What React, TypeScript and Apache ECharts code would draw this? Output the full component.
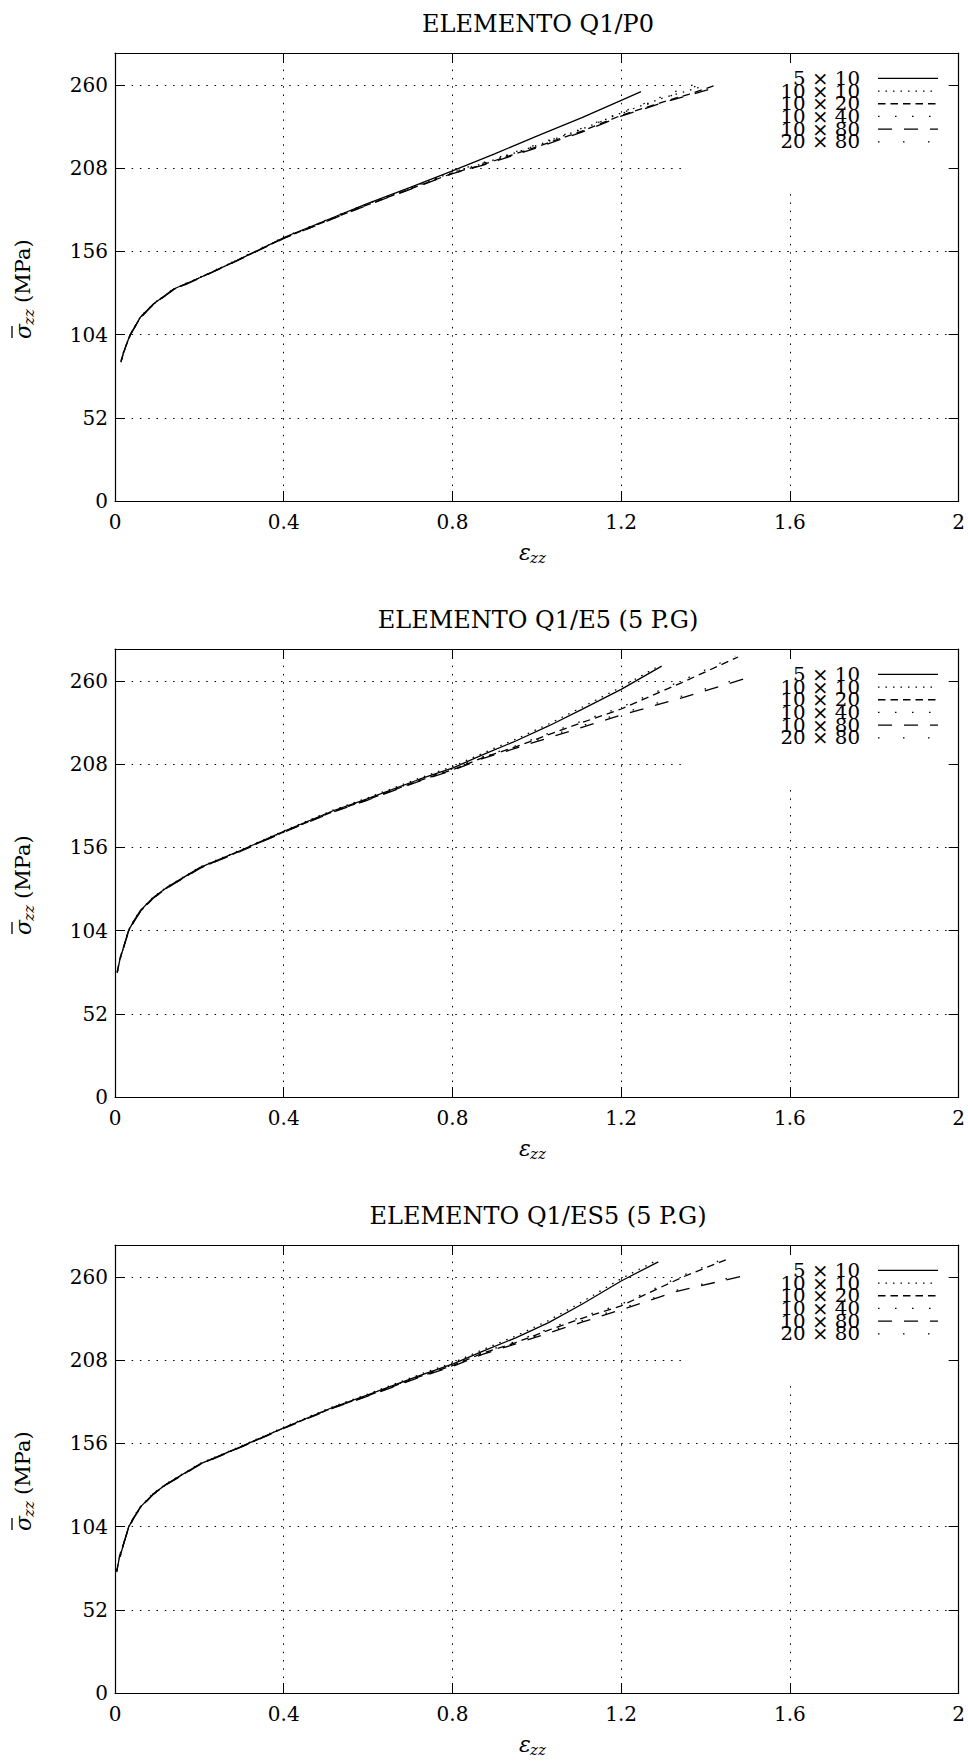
import React, { useEffect, useRef } from "react";
import * as echarts from "echarts";

// ---- text -------------------------------------------------------------
const panelTitles = ["ELEMENTO Q1/P0", "ELEMENTO Q1/E5 (5 P.G)", "ELEMENTO Q1/ES5 (5 P.G)"];
const meshLabels = ["5 × 10", "10 × 10", "10 × 20", "10 × 40", "10 × 80", "20 × 80"];

// ---- axes ---------------------------------------------------------------
const strainMin = 0;
const strainMax = 2;
const strainStep = 0.4;
const stressMin = 0;
const stressMax = 280;
const stressStep = 52;
const stressLabelTop = 260;

// ---- data: [strain ε_zz, stress σ_zz (MPa)] ------------------------------
// Element Q1/P0
const p0Mesh5x10 = [[0.019, 92], [0.036, 104], [0.06, 114.8], [0.091, 123.1], [0.139, 132.5], [0.202, 139.7], [0.28, 149.1], [0.403, 165], [0.517, 177.2], [0.595, 185.5], [0.7, 196], [0.8, 206.3], [0.9, 217], [1.0, 228.1], [1.107, 239.6], [1.2, 250.4], [1.247, 255.8]];
const p0Mesh10x10 = [[0.015, 88], [0.02, 93], [0.036, 104.2], [0.06, 115], [0.091, 123.2], [0.139, 132.4], [0.202, 139.8], [0.28, 149.4], [0.403, 164.8], [0.517, 177], [0.595, 185.2], [0.7, 195.5], [0.8, 205.4], [0.871, 210.8], [0.989, 221.2], [1.107, 232.4], [1.2, 242.5], [1.3, 252], [1.385, 258.5]];
const p0Mesh10x20 = [[0.014, 87], [0.02, 92.6], [0.036, 103.8], [0.06, 114.6], [0.091, 123], [0.139, 132.2], [0.202, 139.6], [0.28, 149.2], [0.403, 164.6], [0.517, 176.6], [0.595, 184.8], [0.7, 195], [0.8, 204.8], [0.871, 210.2], [0.989, 220.4], [1.107, 231.2], [1.2, 241], [1.3, 249.5], [1.36, 254.2], [1.42, 259.5]];
const p0Mesh10x40 = [[0.016, 89], [0.021, 93.5], [0.036, 104.3], [0.06, 115.1], [0.091, 123.4], [0.139, 132.7], [0.202, 140], [0.28, 149.6], [0.403, 165.2], [0.517, 177.4], [0.595, 185.6], [0.7, 195.8], [0.8, 205.8], [0.871, 211.4], [0.989, 221.8], [1.107, 233], [1.2, 243], [1.3, 253], [1.36, 259], [1.4, 263]];
const p0Mesh10x80 = [[0.014, 86.7], [0.02, 92.4], [0.036, 103.6], [0.06, 114.4], [0.091, 122.8], [0.139, 132], [0.202, 139.3], [0.28, 149], [0.403, 164.4], [0.517, 176.4], [0.595, 184.6], [0.7, 194.8], [0.8, 204.6], [0.871, 209.8], [0.989, 219.8], [1.107, 230.6], [1.2, 240.5], [1.3, 249], [1.36, 253.6], [1.432, 259]];
const p0Mesh20x80 = [[0.015, 87.8], [0.02, 92.8], [0.036, 104], [0.06, 114.8], [0.091, 123.1], [0.139, 132.4], [0.202, 139.7], [0.28, 149.3], [0.403, 164.9], [0.517, 177.1], [0.595, 185.3], [0.7, 195.6], [0.8, 205.6], [0.871, 211], [0.989, 221.4], [1.107, 232.6], [1.2, 242], [1.3, 251.5], [1.395, 261]];

// Element Q1/E5 (5 integration points)
const e5Mesh5x10 = [[0.012, 86], [0.019, 92.6], [0.032, 104], [0.045, 110.2], [0.06, 116.5], [0.09, 124.5], [0.123, 131], [0.202, 143.5], [0.296, 153.9], [0.403, 166.4], [0.517, 178.9], [0.596, 186.2], [0.722, 198.6], [0.803, 205.9], [0.871, 213.8], [0.95, 222.5], [1.028, 231.9], [1.107, 242.3], [1.2, 254.8], [1.296, 269.3]];
const e5Mesh10x10 = [[0.013, 87], [0.02, 93.4], [0.032, 104.3], [0.045, 110.5], [0.06, 116.7], [0.09, 124.8], [0.123, 131.3], [0.202, 143.8], [0.296, 154.2], [0.403, 166.7], [0.517, 179.3], [0.596, 186.7], [0.722, 199.3], [0.803, 206.8], [0.871, 214.8], [0.95, 223.6], [1.028, 233.1], [1.107, 243.6], [1.2, 256.2], [1.29, 269.5]];
const e5Mesh10x20 = [[0.005, 78], [0.012, 87], [0.019, 92.5], [0.032, 103.5], [0.045, 109.8], [0.06, 116], [0.09, 124.2], [0.123, 130.7], [0.202, 143.2], [0.296, 153.6], [0.403, 166], [0.517, 178.4], [0.596, 185.6], [0.722, 197.8], [0.803, 204.8], [0.871, 212], [0.95, 218.8], [1.028, 226.5], [1.107, 234], [1.2, 242.5], [1.344, 259], [1.477, 275]];
const e5Mesh10x40 = [[0.006, 79], [0.013, 88], [0.02, 93.2], [0.032, 103.8], [0.045, 110], [0.06, 116.2], [0.09, 124.4], [0.123, 130.9], [0.202, 143.4], [0.296, 153.8], [0.403, 166.2], [0.517, 178.6], [0.596, 185.9], [0.722, 198.2], [0.803, 205.3], [0.871, 212.6], [0.95, 219.5], [1.028, 227.3], [1.107, 235], [1.2, 243.6], [1.344, 260.3], [1.47, 275.5]];
const e5Mesh10x80 = [[0.005, 77.5], [0.012, 86.5], [0.019, 92.2], [0.032, 103.2], [0.045, 109.6], [0.06, 115.8], [0.09, 124], [0.123, 130.5], [0.202, 143], [0.296, 153.4], [0.403, 165.8], [0.517, 178.1], [0.596, 185.3], [0.722, 197.4], [0.803, 204.4], [0.871, 211.5], [0.95, 218], [1.028, 224.5], [1.107, 231], [1.2, 238.7], [1.344, 249.5], [1.5, 262]];
const e5Mesh20x80 = [[0.006, 78.5], [0.013, 87.5], [0.02, 92.9], [0.032, 103.6], [0.045, 109.9], [0.06, 116.1], [0.09, 124.3], [0.123, 130.8], [0.202, 143.3], [0.296, 153.7], [0.403, 166.1], [0.517, 178.5], [0.596, 185.7], [0.722, 197.9], [0.803, 205], [0.871, 212.2], [0.95, 218.8], [1.028, 225.4], [1.107, 232], [1.2, 239.8], [1.344, 250.6], [1.49, 262.3]];

// Element Q1/ES5 (5 integration points)
const es5Mesh5x10 = [[0.012, 85], [0.019, 92], [0.032, 103.5], [0.045, 110], [0.06, 116.2], [0.09, 124.3], [0.123, 130.8], [0.202, 143.2], [0.296, 153.7], [0.403, 166.1], [0.517, 178.6], [0.596, 186], [0.722, 198.4], [0.803, 205.8], [0.871, 213.5], [0.95, 222], [1.028, 231.5], [1.107, 243], [1.2, 257.5], [1.288, 269.5]];
const es5Mesh10x10 = [[0.013, 86], [0.02, 92.8], [0.032, 103.8], [0.045, 110.3], [0.06, 116.5], [0.09, 124.6], [0.123, 131.1], [0.202, 143.5], [0.296, 154], [0.403, 166.5], [0.517, 179], [0.596, 186.5], [0.722, 199], [0.803, 206.6], [0.871, 214.5], [0.95, 223.1], [1.028, 232.8], [1.107, 244.4], [1.2, 259], [1.28, 269.8]];
const es5Mesh10x20 = [[0.004, 76], [0.011, 86], [0.019, 92.2], [0.032, 103.2], [0.045, 109.7], [0.06, 115.9], [0.09, 124.1], [0.123, 130.6], [0.202, 143], [0.296, 153.5], [0.403, 165.9], [0.517, 178.3], [0.596, 185.5], [0.722, 197.7], [0.803, 204.9], [0.871, 212.3], [0.95, 219], [1.028, 226.8], [1.107, 234.2], [1.2, 242], [1.346, 260], [1.456, 271.6]];
const es5Mesh10x40 = [[0.005, 77], [0.012, 87], [0.02, 92.8], [0.032, 103.5], [0.045, 109.9], [0.06, 116.1], [0.09, 124.3], [0.123, 130.8], [0.202, 143.2], [0.296, 153.7], [0.403, 166.1], [0.517, 178.5], [0.596, 185.8], [0.722, 198.1], [0.803, 205.3], [0.871, 212.8], [0.95, 219.7], [1.028, 227.6], [1.107, 235.2], [1.2, 243], [1.346, 261], [1.45, 272]];
const es5Mesh10x80 = [[0.004, 75.5], [0.011, 85.5], [0.019, 91.9], [0.032, 103], [0.045, 109.5], [0.06, 115.7], [0.09, 123.9], [0.123, 130.4], [0.202, 142.8], [0.296, 153.3], [0.403, 165.7], [0.517, 178], [0.596, 185.2], [0.722, 197.3], [0.803, 204.4], [0.871, 211.6], [0.95, 218.2], [1.028, 225], [1.107, 231.8], [1.2, 239.5], [1.332, 251], [1.497, 261.2]];
const es5Mesh20x80 = [[0.005, 76.5], [0.012, 86.5], [0.02, 92.6], [0.032, 103.3], [0.045, 109.8], [0.06, 116], [0.09, 124.2], [0.123, 130.7], [0.202, 143.1], [0.296, 153.6], [0.403, 166], [0.517, 178.4], [0.596, 185.6], [0.722, 197.8], [0.803, 204.9], [0.871, 212], [0.95, 218.8], [1.028, 225.8], [1.107, 232.7], [1.2, 240.3], [1.332, 251.8], [1.49, 261.5]];

const panelData = [
  [p0Mesh5x10, p0Mesh10x10, p0Mesh10x20, p0Mesh10x40, p0Mesh10x80, p0Mesh20x80],
  [e5Mesh5x10, e5Mesh10x10, e5Mesh10x20, e5Mesh10x40, e5Mesh10x80, e5Mesh20x80],
  [es5Mesh5x10, es5Mesh10x10, es5Mesh10x20, es5Mesh10x40, es5Mesh10x80, es5Mesh20x80],
];

// ---- styling ---------------------------------------------------------------
const FONT = "'DejaVu Serif', serif";
const INK = "#000";
const lineDashes: (number[] | null)[] = [null, [1.5, 6], [7.5, 5], [1.5, 15.5], [14, 12], [1.5, 23.5]];
const gridDots = [1.5, 6.8];

// panel layout (px)
const PLOT_LEFT = 115;
const PLOT_WIDTH = 846;
const PLOT_HEIGHT = 448;
const panelTops = [53, 649, 1245];

function buildOption(): echarts.EChartsOption {
  const grid: any[] = [];
  const xAxis: any[] = [];
  const yAxis: any[] = [];
  const series: any[] = [];
  const title: any[] = [];
  const graphic: any[] = [];

  const frameLine = { show: true, onZero: false, lineStyle: { color: INK, width: 1.2 } };
  const tick = { show: true, inside: true, length: 10, lineStyle: { color: INK, width: 1 } };

  panelTops.forEach((top, p) => {
    const bottom = top + PLOT_HEIGHT;
    grid.push({ left: PLOT_LEFT, top, width: PLOT_WIDTH, height: PLOT_HEIGHT, containLabel: false });

    xAxis.push({
      type: "value", gridIndex: p, position: "bottom",
      min: strainMin, max: strainMax, interval: strainStep,
      axisLine: frameLine, axisTick: tick,
      axisLabel: { color: INK, fontFamily: FONT, fontSize: 20, margin: 11 },
      splitLine: { show: true, lineStyle: { color: INK, width: 1, type: gridDots } },
    });
    xAxis.push({
      type: "value", gridIndex: p, position: "top",
      min: strainMin, max: strainMax, interval: strainStep,
      axisLine: frameLine, axisTick: tick, axisLabel: { show: false }, splitLine: { show: false },
    });
    yAxis.push({
      type: "value", gridIndex: p, position: "left",
      min: stressMin, max: stressMax, interval: stressStep,
      axisLine: frameLine, axisTick: tick,
      axisLabel: {
        color: INK, fontFamily: FONT, fontSize: 20, margin: 7,
        formatter: (v: number) => (v > stressLabelTop ? "" : String(v)),
      },
      splitLine: { show: true, lineStyle: { color: INK, width: 1, type: gridDots } },
    });
    yAxis.push({
      type: "value", gridIndex: p, position: "right",
      min: stressMin, max: stressMax, interval: stressStep,
      axisLine: frameLine, axisTick: tick, axisLabel: { show: false }, splitLine: { show: false },
    });

    panelData[p].forEach((data, s) => {
      series.push({
        type: "line",
        name: meshLabels[s],
        xAxisIndex: 2 * p,
        yAxisIndex: 2 * p,
        data,
        symbol: "none",
        showSymbol: false,
        smooth: false,
        silent: true,
        z: 3,
        lineStyle: { color: INK, width: 1.3, type: lineDashes[s] ?? "solid" },
      });
    });

    title.push({
      text: panelTitles[p],
      left: PLOT_LEFT + PLOT_WIDTH / 2,
      top: top - 41,
      textAlign: "center",
      padding: 0,
      textStyle: { fontFamily: FONT, fontSize: 24, fontWeight: "normal", color: INK },
    });

    // blank area behind the key (hides grid lines, not curves)
    graphic.push({
      type: "rect", z: 1, silent: true,
      shape: { x: 686, y: top + 11, width: 262, height: 126 },
      style: { fill: "#fff" },
    });

    // key
    meshLabels.forEach((label, s) => {
      const y = top + 25.4 + s * 12.68;
      graphic.push({
        type: "text", z: 5, silent: true, x: 860, y, scaleX: 1.1,
        style: { text: label, fill: INK, font: `18px ${FONT}`, align: "right", verticalAlign: "middle" },
      });
      graphic.push({
        type: "line", z: 5, silent: true,
        shape: { x1: 878, y1: y, x2: 938, y2: y },
        style: { stroke: INK, lineWidth: 1.3, lineDash: lineDashes[s] ?? undefined },
      });
    });

    // x axis name: ε_zz
    graphic.push({
      type: "group", x: 519, y: bottom + 51, silent: true, z: 5,
      children: [
        { type: "text", x: 0, y: 0, style: { text: "ε", fill: INK, font: `italic 22px ${FONT}`, align: "left", verticalAlign: "middle" } },
        { type: "text", x: 11, y: 6, style: { text: "zz", fill: INK, font: `italic 15px ${FONT}`, align: "left", verticalAlign: "middle" } },
      ],
    });

    // y axis name: σ̄_zz (MPa), reading bottom to top
    graphic.push({
      type: "group", x: 23, y: top + PLOT_HEIGHT / 2 + 10, rotation: Math.PI / 2, silent: true, z: 5,
      children: [
        { type: "text", x: -52, y: 0, style: { text: "σ", fill: INK, font: `italic 22px ${FONT}`, align: "left", verticalAlign: "middle" } },
        { type: "line", shape: { x1: -51, y1: -11, x2: -39, y2: -11 }, style: { stroke: INK, lineWidth: 1.3 } },
        { type: "text", x: -38, y: 6, style: { text: "zz", fill: INK, font: `italic 15px ${FONT}`, align: "left", verticalAlign: "middle" } },
        { type: "text", x: -16, y: 0, style: { text: "(MPa)", fill: INK, font: `21px ${FONT}`, align: "left", verticalAlign: "middle" } },
      ],
    });
  });

  return {
    animation: false,
    backgroundColor: "#fff",
    title,
    grid,
    xAxis,
    yAxis,
    series,
    graphic: { elements: graphic },
  };
}

export default function App() {
  const ref = useRef<HTMLDivElement>(null);
  useEffect(() => {
    if (!ref.current) return;
    const chart = echarts.init(ref.current, null, { renderer: "svg" });
    chart.setOption(buildOption());
    return () => chart.dispose();
  }, []);
  return (
    <div
      ref={ref}
      style={{ position: "absolute", left: 0, top: 0, width: 968, height: 1762, background: "#fff" }}
    />
  );
}
